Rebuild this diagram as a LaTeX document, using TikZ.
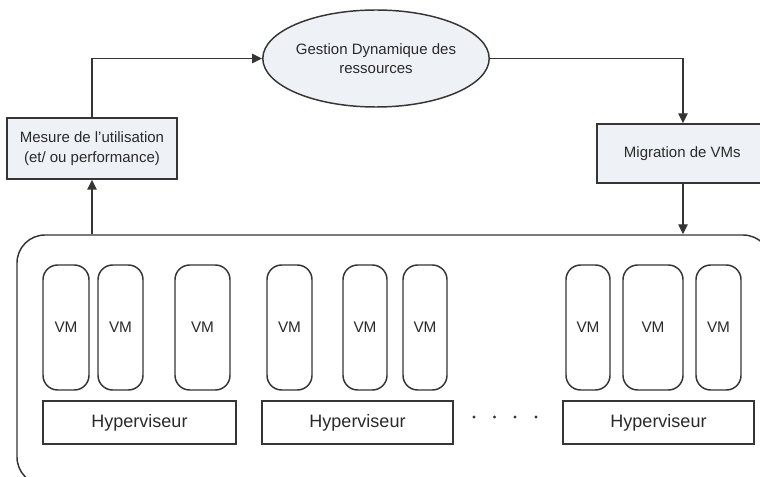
\documentclass[tikz,border=0pt]{standalone}
\usepackage{fontspec}
\setmainfont{Liberation Sans}
\usetikzlibrary{shapes.geometric,arrows.meta,calc}
\definecolor{edge}{HTML}{353535}
\definecolor{ink}{HTML}{2A2A2A}
\definecolor{panel}{HTML}{EEF2F7}
\tikzset{
  px/.style={x=0.75pt,y=-0.75pt},
  base/.style={draw=edge,line width=1.1pt,text=ink,inner sep=0pt,align=center},
  procbox/.style={base,fill=panel,rectangle,font=\fontsize{11.25}{14.5}\selectfont},
  mgmt/.style={base,fill=panel,ellipse,font=\fontsize{11.25}{14}\selectfont},
  vmbox/.style={base,rectangle,rounded corners=11pt,minimum height=93.75pt,font=\fontsize{11.5}{13}\selectfont},
  hyper/.style={base,rectangle,minimum height=32.25pt,font=\fontsize{13.5}{16}\selectfont},
  host/.style={base,rectangle,rounded corners=21pt},
  flow/.style={draw=edge,line width=1.1pt,-{Triangle[length=7.5pt,width=7pt]}},
  dotmark/.style={circle,fill=edge,inner sep=0pt,minimum size=2.4pt}
}
\begin{document}
\begin{tikzpicture}[px]
\useasboundingbox (0,0) rectangle (760,477);
\fill[white] (0,0) rectangle (760,477);

% physical infrastructure
\node[host,minimum width=565.5pt,minimum height=187.5pt] (infra) at (394,360) {};

% control loop
\node[mgmt,minimum width=156pt,minimum height=72.75pt] (gdr) at (376,58.5)
  {Gestion Dynamique des\\ressources};
\node[procbox,minimum width=127.5pt,minimum height=45.75pt] (mes) at (92,148.5)
  {Mesure de l’utilisation\\(et/ ou performance)};
\node[procbox,minimum width=132pt,minimum height=44.25pt] (mig) at (685,153.5)
  {\hspace*{-4pt}Migration de VMs};

% virtual machines
\node[vmbox,minimum width=34.5pt] (vm1) at (66,327.5) {VM};
\node[vmbox,minimum width=33.75pt] (vm2) at (120.5,327.5) {VM};
\node[vmbox,minimum width=41.25pt] (vm3) at (202.5,327.5) {VM};
\node[vmbox,minimum width=33.75pt] (vm4) at (289.5,327.5) {VM};
\node[vmbox,minimum width=33pt] (vm5) at (365,327.5) {VM};
\node[vmbox,minimum width=33pt] (vm6) at (425,327.5) {VM};
\node[vmbox,minimum width=33pt] (vm7) at (588,327.5) {VM};
\node[vmbox,minimum width=45pt] (vm8) at (653,327.5) {VM};
\node[vmbox,minimum width=33.75pt] (vm9) at (718.5,327.5) {VM};

% hypervisors
\node[hyper,minimum width=144.75pt] (hv1) at (139.5,422.5) {Hyperviseur};
\node[hyper,minimum width=143.25pt] (hv2) at (357.5,422.5) {Hyperviseur};
\node[hyper,minimum width=143.25pt] (hv3) at (658.5,422.5) {Hyperviseur};

% ellipsis between hosts
\node[dotmark] (d1) at (474,417) {};
\node[dotmark] (d2) at (494.5,417) {};
\node[dotmark] (d3) at (515,417) {};
\node[dotmark] (d4) at (536,417) {};

% connectors
\draw[flow] (infra.north -| mes.south) -- (mes.south);
\draw[flow] (mes.north) |- (gdr.west);
\draw[flow] (gdr.east) -| ([xshift=-1.5pt]mig.north);
\draw[flow] ([xshift=-1.5pt]mig.south) -- ([xshift=-1.5pt]mig.south |- infra.north);
\end{tikzpicture}
\end{document}
